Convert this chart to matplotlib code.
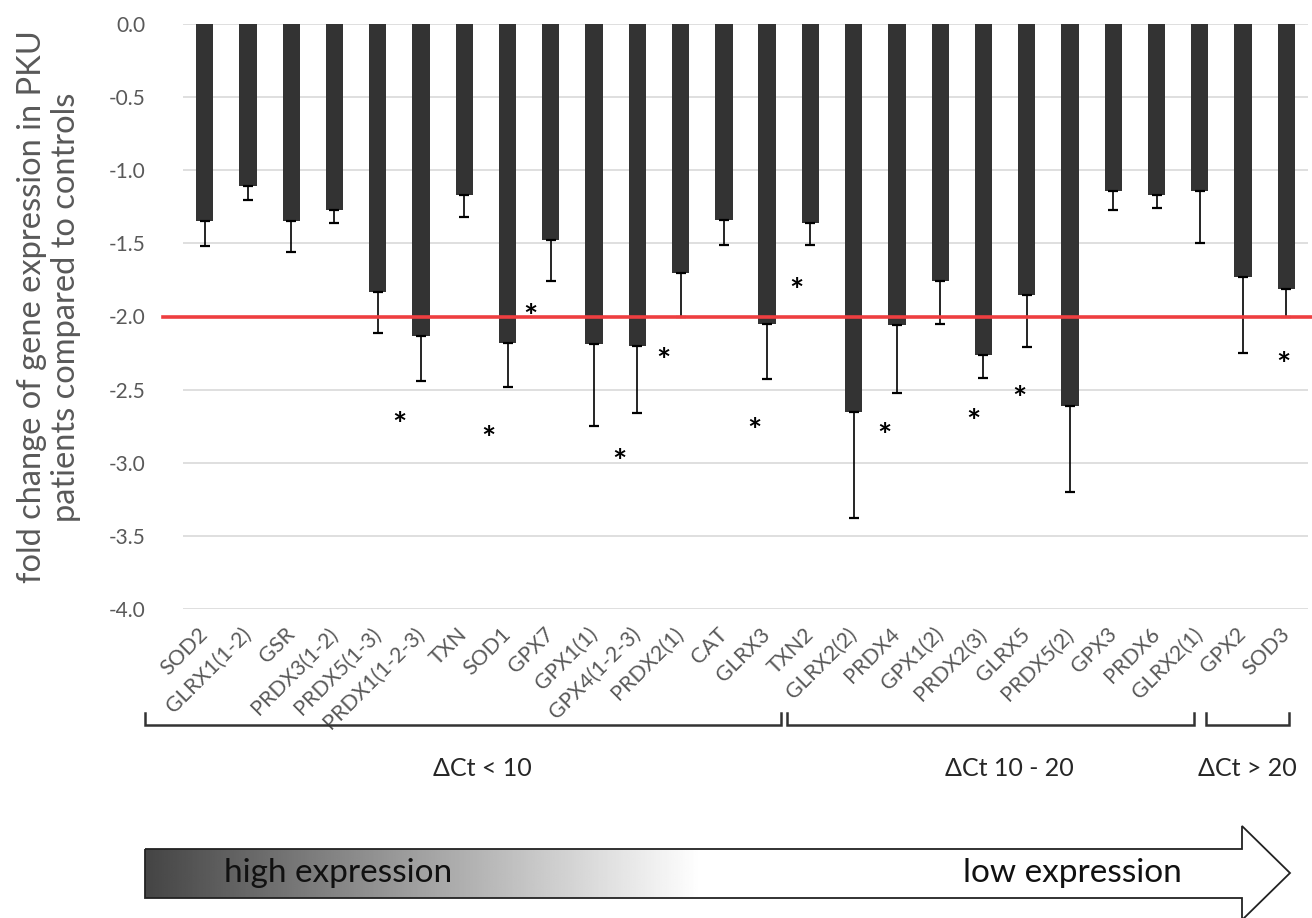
import numpy as np
import matplotlib
matplotlib.use('Agg')
import matplotlib.pyplot as plt
from matplotlib.patches import Polygon

plt.rcParams['font.family'] = ['Lato', 'DejaVu Sans']

# ---------------- data ----------------
genes = ['SOD2', 'GLRX1(1-2)', 'GSR', 'PRDX3(1-2)', 'PRDX5(1-3)', 'PRDX1(1-2-3)',
         'TXN', 'SOD1', 'GPX7', 'GPX1(1)', 'GPX4(1-2-3)', 'PRDX2(1)', 'CAT', 'GLRX3',
         'TXN2', 'GLRX2(2)', 'PRDX4', 'GPX1(2)', 'PRDX2(3)', 'GLRX5', 'PRDX5(2)',
         'GPX3', 'PRDX6', 'GLRX2(1)', 'GPX2', 'SOD3']
fold_change = [-1.35, -1.11, -1.35, -1.27, -1.83, -2.13, -1.17, -2.18, -1.48, -2.19,
               -2.20, -1.70, -1.34, -2.05, -1.36, -2.65, -2.06, -1.76, -2.26, -1.85,
               -2.61, -1.14, -1.17, -1.14, -1.73, -1.81]
error_down = [0.17, 0.09, 0.21, 0.09, 0.28, 0.31, 0.15, 0.30, 0.28, 0.56,
              0.46, 0.30, 0.17, 0.38, 0.15, 0.73, 0.46, 0.29, 0.16, 0.36,
              0.59, 0.13, 0.09, 0.36, 0.52, 0.19]
# significance asterisks (x in category units, y in fold-change units)
star_x = [4.51, 6.56, 7.53, 9.59, 10.6, 12.71, 13.68, 15.71, 17.77, 18.83, 24.93]
star_y = [-2.69, -2.78, -1.95, -2.94, -2.25, -2.73, -1.77, -2.76, -2.67, -2.51, -2.28]
threshold = -2.0
yticks = [0.0, -0.5, -1.0, -1.5, -2.0, -2.5, -3.0, -3.5, -4.0]
ylabel = 'fold change of gene expression in PKU\npatients compared to controls'
groups = ['ΔCt < 10', 'ΔCt 10 - 20', 'ΔCt > 20']

# ---------------- figure ----------------
W, H = 1312, 918
fig = plt.figure(figsize=(W / 100, H / 100), dpi=100)
ax = fig.add_axes([183 / W, 1 - 609 / H, (1308 - 183) / W, (609 - 24) / H])

x = np.arange(len(genes))
ax.bar(x, fold_change, width=0.4, color='#333333', zorder=3)
ax.errorbar(x, fold_change, yerr=[error_down, np.zeros(len(genes))], fmt='none',
            ecolor='black', elinewidth=1.2, capsize=3.5, capthick=1.6, zorder=4)
ax.set_xlim(-0.5, len(genes) - 0.5)
ax.set_ylim(-4, 0)
ax.set_yticks(yticks)
ax.set_yticklabels([f'{v:.1f}' for v in yticks])
ax.grid(axis='y', color='#d9d9d9', lw=1.2, zorder=0)
ax.set_axisbelow(True)
for s in ax.spines.values():
    s.set_visible(False)
ax.tick_params(axis='both', length=0, colors='#595959')
ax.tick_params(axis='y', labelsize=15, pad=27)
ax.set_xticks(x)
ax.set_xticklabels(genes, rotation=45, ha='right', va='center',
                   rotation_mode='anchor', fontsize=15.5, color='#595959')
ax.tick_params(axis='x', pad=16)

# threshold line
ax.plot([-0.018, 1.004], [threshold, threshold], transform=ax.get_yaxis_transform(),
        color='#ee3e40', lw=2.6, clip_on=False, zorder=5)

# asterisks
for sx, sy in zip(star_x, star_y):
    ax.annotate('*', xy=(sx, sy), xytext=(0, -7), textcoords='offset pixels',
                ha='center', va='center_baseline', fontsize=24, fontweight='bold',
                color='black', zorder=6)

fig.text(49 / W, 1 - 307 / H, ylabel, rotation=90, ha='center', va='center',
         multialignment='center', fontsize=23.5, color='#595959', linespacing=1.2)

# ---------------- overlay (brackets, arrow) ----------------
ov = fig.add_axes([0, 0, 1, 1])
ov.set_xlim(0, W)
ov.set_ylim(H, 0)
ov.axis('off')

brackets = [(145, 781), (787, 1194), (1206, 1289)]
for (bx0, bx1) in brackets:
    ov.plot([bx0, bx0, bx1, bx1], [713, 725, 725, 713], color='#333333', lw=1.8,
            solid_joinstyle='miter')
label_pos = [482, 1009, 1247]
for lx, lab in zip(label_pos, groups):
    ov.text(lx, 769, lab, ha='center', va='center', fontsize=18, color='#262626')

pts = [(145, 849), (1242, 849), (1242, 826), (1290, 873), (1242, 920),
       (1242, 898), (145, 898)]
outline = Polygon(pts, closed=True, fill=False, edgecolor='#222222', lw=1.3, zorder=3)
clip = Polygon(pts, closed=True, fill=False, edgecolor='none', transform=ov.transData)
grad = np.clip(np.linspace(0, 1, 600) * (1242 - 145) / (700 - 145), 0, 1)
vals = 0.27 + 0.73 * grad
img = ov.imshow(vals[None, :], cmap='gray', vmin=0, vmax=1, aspect='auto',
                extent=(145, 1242, 898, 849), zorder=1, interpolation='bilinear')
img.set_clip_path(clip)
ov.add_patch(outline)
ov.set_xlim(0, W)
ov.set_ylim(H, 0)
ov.text(224, 873, 'high expression', ha='left', va='center', fontsize=24,
        color='#111111', zorder=4)
ov.text(1182, 873, 'low expression', ha='right', va='center', fontsize=24,
        color='#111111', zorder=4)

fig.savefig('out.png', dpi=100)
